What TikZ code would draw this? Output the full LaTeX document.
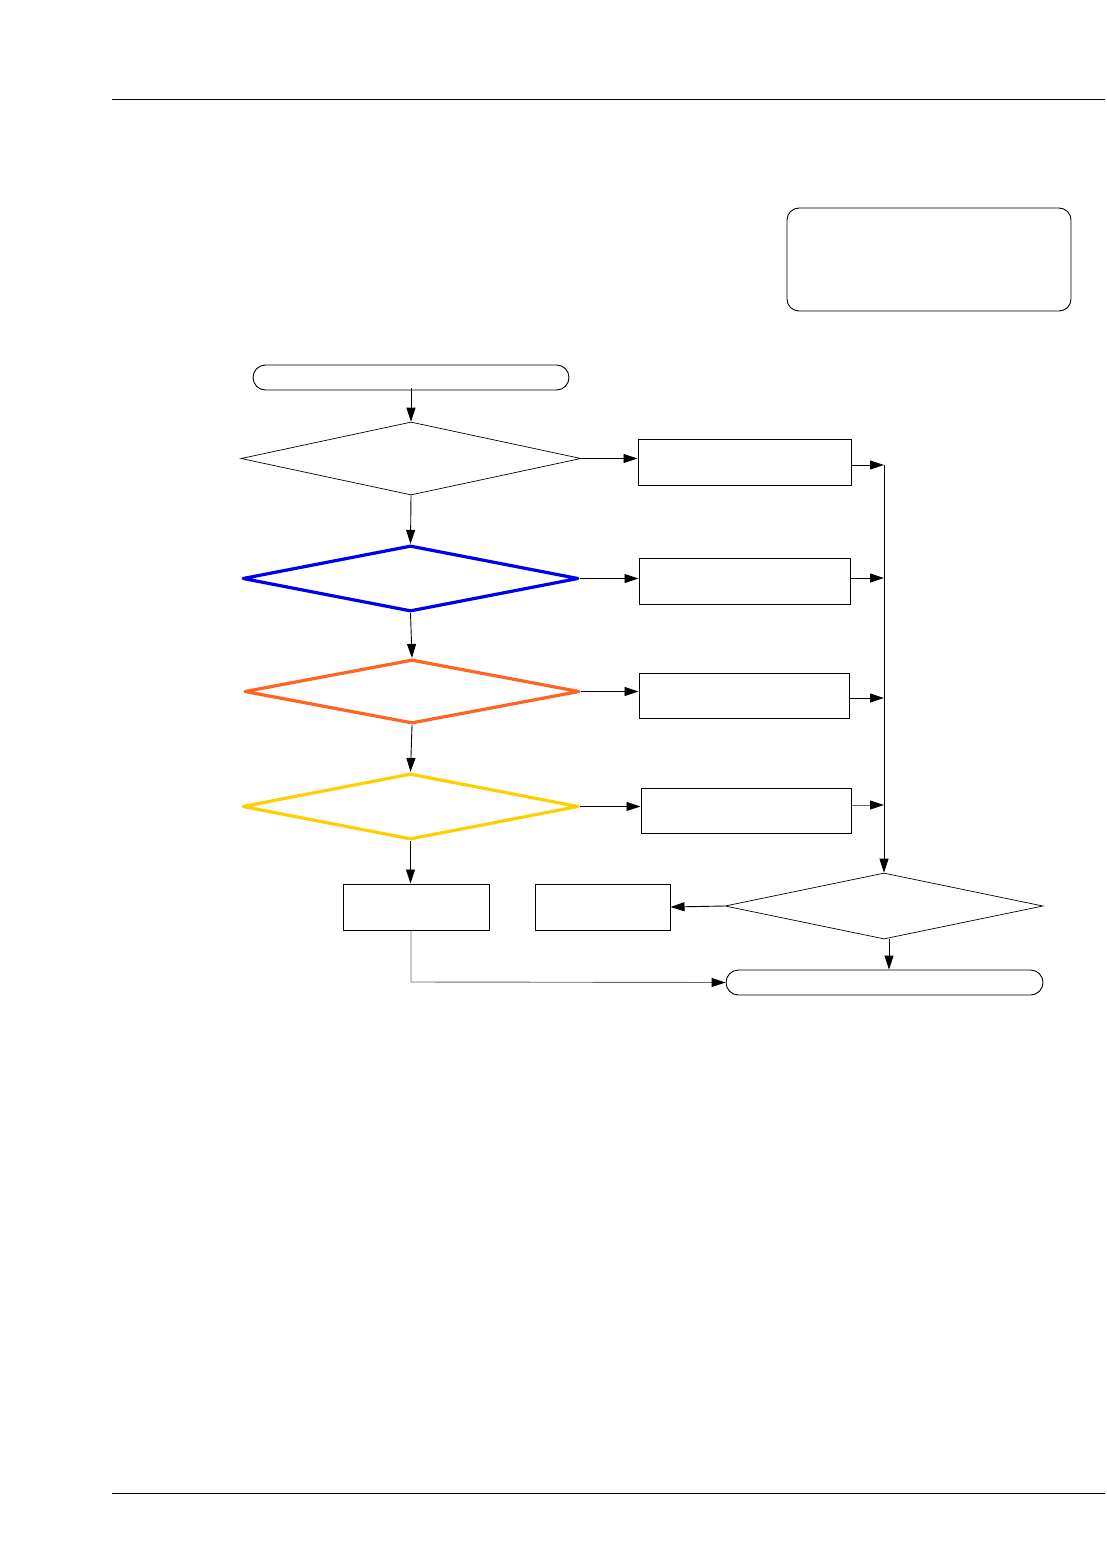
\documentclass[tikz,border=0pt]{standalone}
\usetikzlibrary{arrows.meta,shapes.geometric,shapes.misc}
\definecolor{dblue}{RGB}{0,0,240}
\definecolor{dorange}{RGB}{255,100,35}
\definecolor{dyellow}{RGB}{255,208,0}
\tikzset{
  conn/.style={draw=black, line width=0.9pt, -{Triangle[length=14pt,width=9pt,color=black]}},
  procbox/.style={draw=black, line width=1pt, rectangle, inner sep=0pt},
  termbox/.style={draw=black, line width=0.9pt, rounded rectangle, inner sep=0pt},
  decide/.style={draw=black, line width=0.7pt, diamond, inner sep=0pt},
  colordecide/.style={decide, draw=#1, line width=3.2pt, line join=round},
}
\begin{document}
\begin{tikzpicture}[x=1pt,y=-1pt]
\useasboundingbox (0,0) rectangle (1107,1554);
% header and footer rules
\draw[line width=1pt] (112,100) -- (1105,100);
\draw[line width=1pt] (112,1493) -- (1105,1493);
% note box
\node[draw=black, line width=0.9pt, rounded corners=12pt, minimum width=284pt, minimum height=103pt, inner sep=0pt] (note) at (929,259.5) {};
% start terminal
\node[termbox, minimum width=316pt, minimum height=25pt] (start) at (411,377.5) {};
% decisions
\node[decide, minimum width=340pt, minimum height=73pt] (d1) at (411,458.5) {};
\node[colordecide=dblue, minimum width=336pt, minimum height=66pt] (d2) at (410.5,578.5) {};
\node[colordecide=dorange, minimum width=335pt, minimum height=64pt] (d3) at (412,691.5) {};
\node[colordecide=dyellow, minimum width=336pt, minimum height=66pt] (d4) at (410.5,806.5) {};
\node[decide, minimum width=318pt, minimum height=66pt] (d5) at (884,906) {};
% process boxes
\node[procbox, minimum width=213pt, minimum height=46pt] (b1) at (744.5,462) {};
\node[procbox, minimum width=211pt, minimum height=46pt] (b2) at (744.5,581) {};
\node[procbox, minimum width=210pt, minimum height=45pt] (b3) at (744,695.5) {};
\node[procbox, minimum width=210pt, minimum height=45pt] (b4) at (746,810.5) {};
\node[procbox, minimum width=146pt, minimum height=46pt] (b5) at (416,907) {};
\node[procbox, minimum width=135pt, minimum height=46pt] (b6) at (602.5,907) {};
% end terminal
\node[termbox, minimum width=317pt, minimum height=25pt] (stop) at (884.5,982.5) {};
% bus
\coordinate (bt) at (884,465);
\coordinate (j2) at (884,578);
\coordinate (j3) at (884,698);
\coordinate (j4) at (884,805);
\coordinate (corner) at (411,982);
\coordinate (d5out) at (889,939);
% vertical flow
\draw[conn] (411,388) -- (d1.north);
\draw[conn] (d1.south) -- (d2.north);
\draw[conn] (d2.south) -- (d3.north);
\draw[conn] (d3.south) -- (d4.north);
\draw[conn] (d4.south) -- (b5.north -| d4.south);
% to boxes
\draw[conn] (d1.east) -- (b1.west |- d1.east);
\draw[conn] (d2.east) -- (b2.west |- d2.east);
\draw[conn] (d3.east) -- (b3.west |- d3.east);
\draw[conn] (d4.east) -- (b4.west |- d4.east);
% boxes to bus
\draw[conn] (b1.east |- bt) -- (bt);
\draw[conn] (b2.east |- j2) -- (j2);
\draw[conn] (b3.east |- j3) -- (j3);
\draw[conn, draw=black!60] (b4.east |- j4) -- (j4);
\draw[conn] (bt) -- (d5.north);
% d5 outputs
\draw[conn] (d5.west) -- (b6.east);
\draw[conn] (d5out) -- (stop.north -| d5out);
% b5 to stop
\draw[conn, draw=black!60] (b5.south -| corner) -- (corner) -- (stop.west);
\end{tikzpicture}
\end{document}
